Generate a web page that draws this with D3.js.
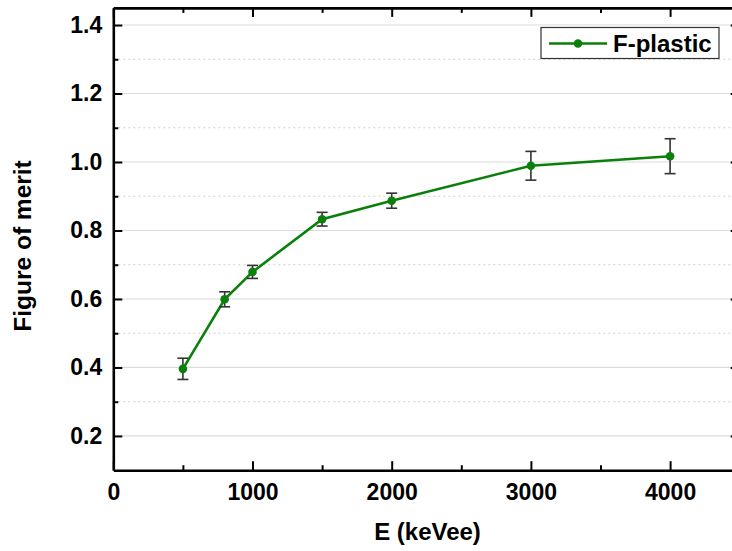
<!DOCTYPE html>
<html><head><meta charset="utf-8">
<script src="https://cdn.jsdelivr.net/npm/d3@7"></script>
<style>
body{margin:0;background:#fff;}
svg{display:block;font-family:"Liberation Sans",Arial,sans-serif;}
</style></head>
<body><svg id="c" width="732" height="551"></svg>
<script>
const energy = [500, 800, 1000, 1500, 2000, 3000, 4000];
const fom = [0.396, 0.599, 0.679, 0.833, 0.887, 0.989, 1.017];
const fomErr = [0.031, 0.022, 0.019, 0.020, 0.022, 0.042, 0.051];
const xMajor = [0, 1000, 2000, 3000, 4000];
const xMinor = [500, 1500, 2500, 3500, 4500];
const yMajor = [0.2, 0.4, 0.6, 0.8, 1.0, 1.2, 1.4];
const yMinor = [0.3, 0.5, 0.7, 0.9, 1.1, 1.3];
const seriesName = "F-plastic";
const xTitle = "E (keVee)";
const yTitle = "Figure of merit";

const svg = d3.select("#c");
const L = 113.3, R = 739.7, T = 7.9, B = 470.2;
const x = d3.scaleLinear().domain([0, 4500]).range([L, R]);
const y = d3.scaleLinear().domain([0.1, 1.45]).range([B, T]);
const green = "#0a800a";

// gridlines
svg.append("g").selectAll("line").data(yMajor).join("line")
  .attr("x1", L).attr("x2", R).attr("y1", d => y(d)).attr("y2", d => y(d))
  .attr("stroke", "#dcdcdc").attr("stroke-width", 1.2);
svg.append("g").selectAll("line").data(yMinor).join("line")
  .attr("x1", L).attr("x2", R).attr("y1", d => y(d)).attr("y2", d => y(d))
  .attr("stroke", "#cfcfcf").attr("stroke-width", 1).attr("stroke-dasharray", "2,3");

// axes
const fmtY = d3.format(".1f");
function styleAxis(g){
  g.select(".domain").attr("stroke", "#000").attr("stroke-width", 2.6);
  g.selectAll(".tick line").attr("stroke", "#000").attr("stroke-width", 2);
  g.selectAll("text").attr("font-size", 23).attr("font-weight", "bold").attr("fill", "#000");
}
const gx = svg.append("g").attr("transform", `translate(0,${B})`)
  .call(d3.axisBottom(x).tickValues(xMajor).tickSize(-9).tickSizeOuter(0).tickPadding(13).tickFormat(d3.format("d")));
styleAxis(gx);
const gxm = svg.append("g").attr("transform", `translate(0,${B})`)
  .call(d3.axisBottom(x).tickValues(xMinor).tickSize(-5).tickSizeOuter(0).tickFormat(""));
styleAxis(gxm); gxm.select(".domain").remove();

const gt = svg.append("g").attr("transform", `translate(0,${T})`)
  .call(d3.axisTop(x).tickValues(xMajor).tickSize(-9).tickSizeOuter(0).tickFormat(""));
styleAxis(gt);
const gtm = svg.append("g").attr("transform", `translate(0,${T})`)
  .call(d3.axisTop(x).tickValues(xMinor).tickSize(-5).tickSizeOuter(0).tickFormat(""));
styleAxis(gtm); gtm.select(".domain").remove();

const gy = svg.append("g").attr("transform", `translate(${L},0)`)
  .call(d3.axisLeft(y).tickValues(yMajor).tickSize(-9).tickSizeOuter(0).tickPadding(11).tickFormat(fmtY));
styleAxis(gy);
const gym = svg.append("g").attr("transform", `translate(${L},0)`)
  .call(d3.axisLeft(y).tickValues(yMinor).tickSize(-5).tickSizeOuter(0).tickFormat(""));
styleAxis(gym); gym.select(".domain").remove();

const gr = svg.append("g").attr("transform", `translate(${R},0)`)
  .call(d3.axisRight(y).tickValues(yMajor).tickSize(-9).tickSizeOuter(0).tickFormat(""));
styleAxis(gr);
const grm = svg.append("g").attr("transform", `translate(${R},0)`)
  .call(d3.axisRight(y).tickValues(yMinor).tickSize(-5).tickSizeOuter(0).tickFormat(""));
styleAxis(grm); grm.select(".domain").remove();

// data
const pts = energy.map((e, i) => ({e, v: fom[i], s: fomErr[i]}));
svg.append("path").datum(pts)
  .attr("d", d3.line().x(d => x(d.e)).y(d => y(d.v)))
  .attr("fill", "none").attr("stroke", green).attr("stroke-width", 2.6);

const eb = svg.append("g").attr("stroke", "#333").attr("stroke-width", 1.6);
pts.forEach(d => {
  eb.append("line").attr("x1", x(d.e)).attr("x2", x(d.e)).attr("y1", y(d.v - d.s)).attr("y2", y(d.v + d.s));
  eb.append("line").attr("x1", x(d.e) - 5.5).attr("x2", x(d.e) + 5.5).attr("y1", y(d.v - d.s)).attr("y2", y(d.v - d.s));
  eb.append("line").attr("x1", x(d.e) - 5.5).attr("x2", x(d.e) + 5.5).attr("y1", y(d.v + d.s)).attr("y2", y(d.v + d.s));
});
svg.append("g").selectAll("circle").data(pts).join("circle")
  .attr("cx", d => x(d.e)).attr("cy", d => y(d.v)).attr("r", 4.3).attr("fill", green);

// legend
const lg = svg.append("g");
lg.append("rect").attr("x", 541).attr("y", 27.5).attr("width", 178).attr("height", 31)
  .attr("fill", "#fff").attr("stroke", "#333").attr("stroke-width", 1.2);
lg.append("line").attr("x1", 549).attr("x2", 607).attr("y1", 43.5).attr("y2", 43.5)
  .attr("stroke", green).attr("stroke-width", 2.6);
lg.append("circle").attr("cx", 578).attr("cy", 43.5).attr("r", 4.3).attr("fill", green);
lg.append("text").attr("x", 613).attr("y", 51.5).text(seriesName)
  .attr("font-size", 24).attr("font-weight", "bold");

// titles
svg.append("text").attr("x", (L + R) / 2 + 1).attr("y", 540).attr("text-anchor", "middle")
  .attr("font-size", 24).attr("font-weight", "bold").text(xTitle);
svg.append("text").attr("transform", "translate(31,246) rotate(-90)").attr("text-anchor", "middle")
  .attr("font-size", 24.5).attr("font-weight", "bold").text(yTitle);
</script></body></html>
